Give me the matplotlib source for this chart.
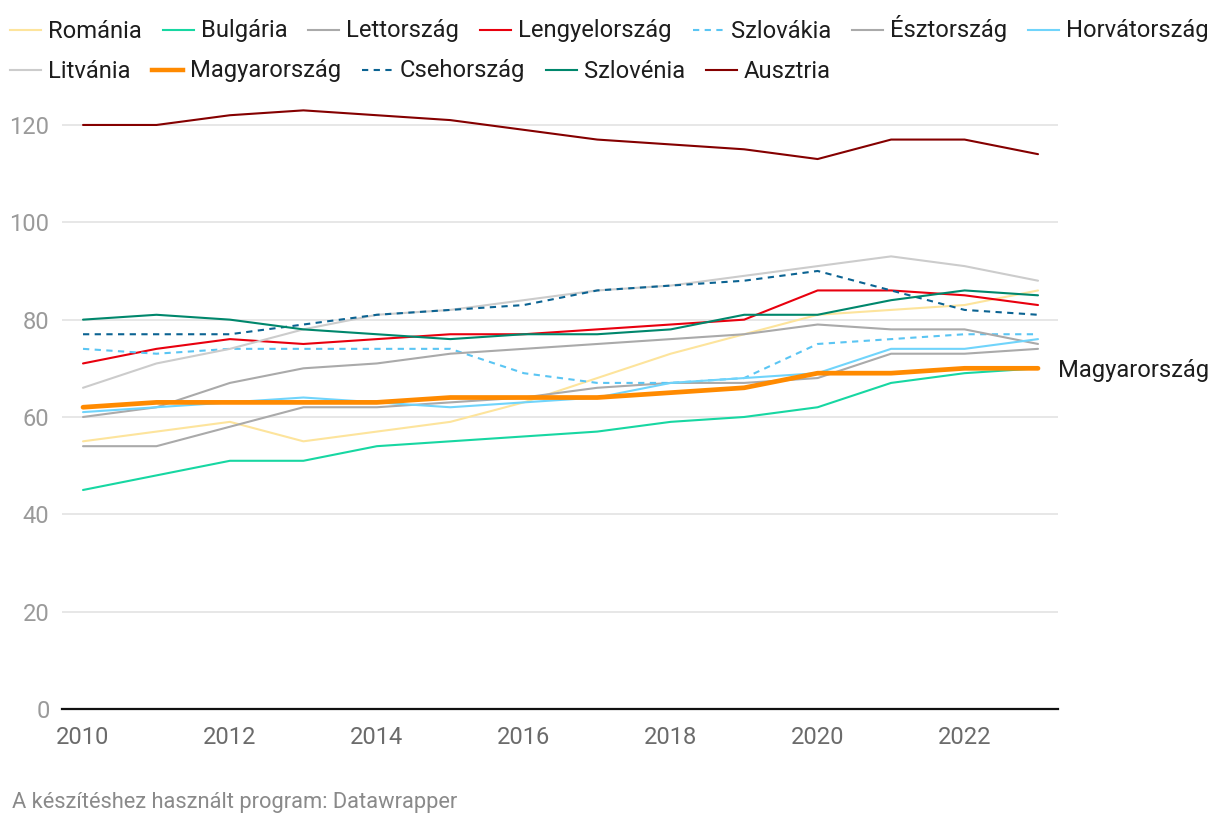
import matplotlib
matplotlib.use('Agg')
import matplotlib.pyplot as plt
from matplotlib.lines import Line2D

plt.rcParams['font.family'] = ['Roboto', 'DejaVu Sans']

years = list(range(2010, 2024))

romania = [55, 57, 59, 55, 57, 59, 63, 68, 73, 77, 81, 82, 83, 86]
bulgaria = [45, 48, 51, 51, 54, 55, 56, 57, 59, 60, 62, 67, 69, 70]
lettorszag = [54, 54, 58, 62, 62, 63, 64, 66, 67, 67, 68, 73, 73, 74]
lengyelorszag = [71, 74, 76, 75, 76, 77, 77, 78, 79, 80, 86, 86, 85, 83]
szlovakia = [74, 73, 74, 74, 74, 74, 69, 67, 67, 68, 75, 76, 77, 77]
esztorszag = [60, 62, 67, 70, 71, 73, 74, 75, 76, 77, 79, 78, 78, 75]
horvatorszag = [61, 62, 63, 64, 63, 62, 63, 64, 67, 68, 69, 74, 74, 76]
litvania = [66, 71, 74, 78, 81, 82, 84, 86, 87, 89, 91, 93, 91, 88]
magyarorszag = [62, 63, 63, 63, 63, 64, 64, 64, 65, 66, 69, 69, 70, 70]
csehorszag = [77, 77, 77, 79, 81, 82, 83, 86, 87, 88, 90, 86, 82, 81]
szlovenia = [80, 81, 80, 78, 77, 76, 77, 77, 78, 81, 81, 84, 86, 85]
ausztria = [120, 120, 122, 123, 122, 121, 119, 117, 116, 115, 113, 117, 117, 114]

series = [
    ('Románia', romania, '#fde49c', '-', 1.5),
    ('Bulgária', bulgaria, '#17d7a2', '-', 1.5),
    ('Lettország', lettorszag, '#aaaaaa', '-', 1.5),
    ('Lengyelország', lengyelorszag, '#e8000e', '-', 1.5),
    ('Szlovákia', szlovakia, '#5ac5f3', '--', 1.5),
    ('Észtország', esztorszag, '#aaaaaa', '-', 1.5),
    ('Horvátország', horvatorszag, '#70d4fb', '-', 1.5),
    ('Litvánia', litvania, '#cccccc', '-', 1.5),
    ('Magyarország', magyarorszag, '#ff8a00', '-', 3.4),
    ('Csehország', csehorszag, '#0b6392', '--', 1.5),
    ('Szlovénia', szlovenia, '#00876c', '-', 1.5),
    ('Ausztria', ausztria, '#850000', '-', 1.5),
]

FS = 17.1

W, H = 1220, 826
fig = plt.figure(figsize=(W / 100, H / 100), dpi=100)
ax = fig.add_axes([62 / W, 1 - 709 / H, (1058 - 62) / W, (709 - 105.5) / H])

for name, vals, color, ls, lw in series:
    z = 5 if name == 'Magyarország' else 3
    line, = ax.plot(years, vals, color=color, lw=lw, zorder=z,
                    solid_capstyle='round', solid_joinstyle='round')
    if ls == '--':
        line.set_dashes((3, 2.6))

ax.set_xlim(2009.714, 2023.272)
ax.set_ylim(0, 124)
ax.set_yticks(range(0, 121, 20))
ax.set_xticks(range(2010, 2023, 2))
ax.grid(axis='y', color='#e3e3e3', lw=1.2, zorder=0)
for s in ['top', 'right', 'left']:
    ax.spines[s].set_visible(False)
ax.spines['bottom'].set_color('#111111')
ax.spines['bottom'].set_linewidth(1.6)
ax.spines['bottom'].set_zorder(6)
ax.tick_params(axis='y', length=0, pad=9, labelsize=FS, labelcolor='#9a9a9a')
ax.tick_params(axis='x', length=0, pad=12, labelsize=FS, labelcolor='#6b6b6b')

ax.text(2023.272, magyarorszag[-1], 'Magyarország', fontsize=FS, color='#1d1d1d',
        va='center_baseline', ha='left', transform=ax.transData, clip_on=False)

# legend, flowed like datawrapper
fig.canvas.draw()
renderer = fig.canvas.get_renderer()
rows = [series[:7], series[7:]]
row_y = [30, 70]
for row, ypix in zip(rows, row_y):
    xpix = 10
    for name, vals, color, ls, lw in row:
        hl = Line2D([xpix / W, (xpix + 31) / W], [1 - ypix / H] * 2,
                    transform=fig.transFigure, color=color,
                    lw=3.2 if name == 'Magyarország' else 1.5)
        if ls == '--':
            hl.set_dashes((3, 2.6))
        fig.add_artist(hl)
        t = fig.text((xpix + 38) / W, 1 - (ypix + 7.5) / H, name, fontsize=FS,
                     color='#1d1d1d', va='baseline', ha='left')
        wt = t.get_window_extent(renderer).width
        xpix = xpix + 38 + wt + 21

fig.text(12 / W, 1 - 808 / H, 'A készítéshez használt program: Datawrapper',
         fontsize=15.75, color='#8a8a8a', va='baseline', ha='left')

fig.savefig('out.png', dpi=100)
